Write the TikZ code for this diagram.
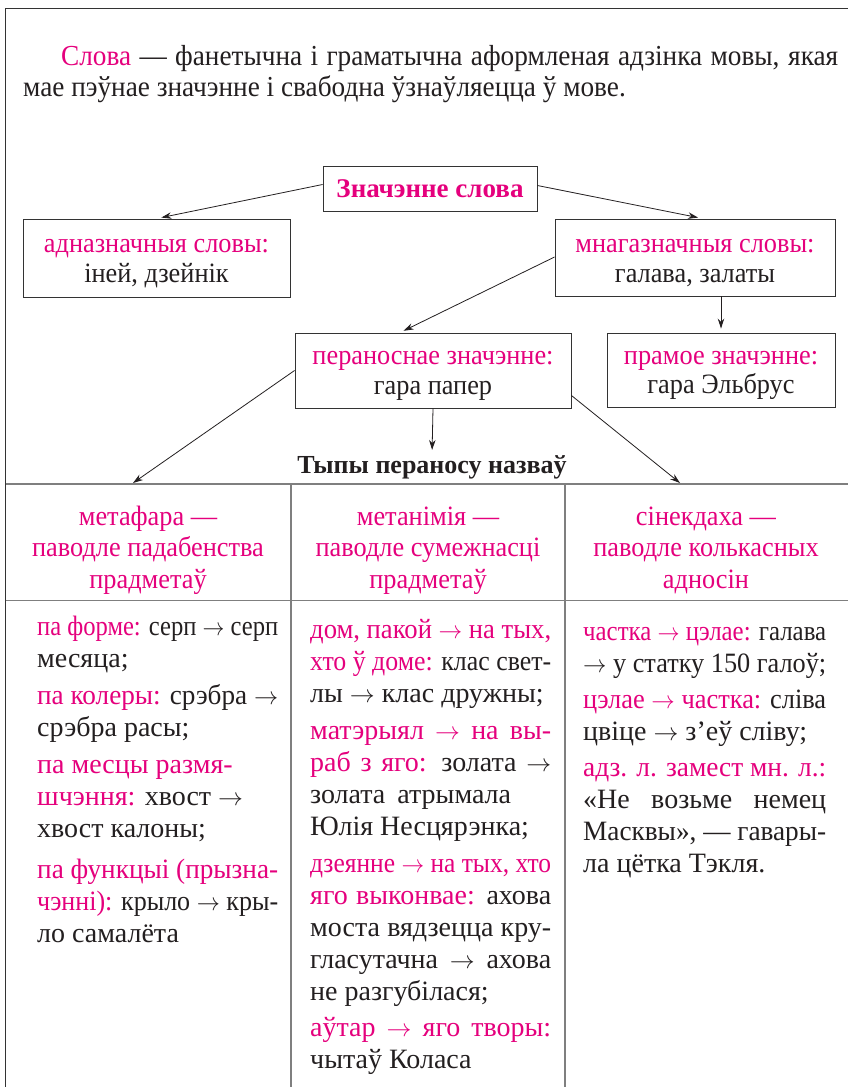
\documentclass[tikz,border=0pt]{standalone}
\usepackage{fontspec}
\setmainfont{Liberation Serif}
\newfontfamily\condf[FakeStretch=0.94]{Liberation Serif}
\usepackage{graphicx}
\usetikzlibrary{arrows.meta}
\definecolor{mg}{HTML}{E5007D}
\definecolor{tx}{HTML}{231F20}
\definecolor{frm}{HTML}{333333}
\definecolor{tabl}{HTML}{7F7F7F}
\newcommand\pk[1]{\textcolor{mg}{#1}}
\newcommand\myto{\ensuremath{\rightarrow}}
\newsavebox\jlbox
\newdimen\jldim
\newcommand\jl[2]{\sbox\jlbox{#2}\jldim=\wd\jlbox\relax
  \ifdim\jldim>#1\relax\pgfmathsetmacro\jlsc{#1/\jldim}\scalebox{\jlsc}[1]{\usebox\jlbox}\else\makebox[#1][s]{#2}\fi}
\begin{document}
\begin{tikzpicture}[x=1pt,y=-1pt,
  box/.style={draw=frm, line width=0.9pt, align=center, inner sep=0pt, text=tx, font=\condf\fontsize{28}{29.5}\selectfont},
  arr/.style={draw=tx, line width=0.8pt, -{Stealth[length=10pt,width=6.5pt]}},
  txt/.style={inner sep=0pt, text=tx, font=\fontsize{28}{32}\selectfont},
  para/.style={txt, anchor=base west, font=\condf\fontsize{29}{30}\selectfont},
  head/.style={txt, align=center, anchor=north, text=mg, font=\condf\fontsize{28}{31.5}\selectfont},
  cell/.style={txt, align=left, anchor=north west}]
\useasboundingbox (0,0) rectangle (848,1087);
\fill[white] (0,0) rectangle (848,1087);
% frame and table
\draw[frm, line width=1.2pt] (5.5,1087) -- (5.5,8.5) -- (848,8.5);
\draw[tabl, line width=1.5pt] (5.5,484) -- (848,484) (5.5,600.5) -- (848,600.5)
  (291,484) -- (291,1087) (565,484) -- (565,1087);
% paragraph
\node[para] (p1) at (61,65)
  {\jl{777pt}{\pk{Слова} — фанетычна і граматычна аформленая адзінка мовы, якая}};
\node[para] (p2) at (23,96)
  {мае пэўнае значэнне і свабодна ўзнаўляецца ў мове.};
% boxes
\node[box, minimum width=214pt, minimum height=45pt, text=mg, font=\bfseries\fontsize{27}{29}\selectfont] (b1) at (430,188.5) {Значэнне слова};
\node[box, minimum width=267pt, minimum height=78pt] (b2) at (156.5,258) {\rule{0pt}{24pt}\pk{адназначныя словы:}\\іней, дзейнік};
\node[box, minimum width=280pt, minimum height=77pt] (b3) at (695,257.5) {\rule{0pt}{24pt}\pk{мнагазначныя словы:}\\галава, залаты};
\node[box, minimum width=276pt, minimum height=75pt] (b4) at (433,370.5) {\rule{0pt}{24pt}\pk{пераноснае значэнне:}\\гара папер};
\node[box, minimum width=228pt, minimum height=74pt] (b5) at (721,370) {\rule{0pt}{24pt}\pk{прамое значэнне:}\\гара Эльбрус};
\node[txt, font=\bfseries\fontsize{26}{30}\selectfont, anchor=base] (tp) at (432,473) {Тыпы пераносу назваў};
% table headers
\node[head] (h1) at (148,505) {\rule{0pt}{20pt}метафара —\\паводле падабенства\\прадметаў};
\node[head] (h2) at (428,505) {\rule{0pt}{20pt}метанімія —\\паводле сумежнасці\\прадметаў};
\node[head] (h3) at (706,505) {\rule{0pt}{20pt}сінекдаха —\\паводле колькасных\\адносін};
\coordinate (j1) at (133,483);
\coordinate (j3) at (680,483);
% connectors
\draw[arr, shorten >=5pt] ([yshift=4pt]b1.west) -- (b2.north);
\draw[arr, shorten >=5pt] ([yshift=3pt]b1.east) -- ([xshift=8pt]b3.north);
\draw[arr, shorten >=4pt] ([yshift=0.5pt]b3.west) -- ([xshift=-33pt]b4.north);
\draw[arr, shorten >=4pt] (b5.north |- b3.south) -- (b5.north);
\draw[arr] (b4.west) -- (j1);
\draw[arr, shorten >=5pt] (b4.south) -- (tp.north);
\draw[arr] ([yshift=-25pt]b4.east) -- (j3);
% body cells
\node[cell] (c1) at (37,613) {\rule{0pt}{22pt}\jl{241pt}{\pk{па форме:} серп \myto{} серп}\\
месяца;\\[5pt]
\jl{241pt}{\pk{па колеры:} срэбра \myto}\\
срэбра расы;\\[5pt]
\pk{па месцы размя-}\\
\pk{шчэння:} хвост \myto\\
хвост калоны;\\[9pt]
\jl{241pt}{\pk{па функцыі (прызна-}}\\
\jl{241pt}{\pk{чэнні):} крыло \myto{} кры-}\\
ло самалёта};
\node[cell] (c2) at (310,616) {\rule{0pt}{22pt}\jl{241pt}{\pk{дом, пакой \myto{} на тых,}}\\
\jl{241pt}{\pk{хто ў доме:} клас свет-}\\
лы \myto{} клас дружны;\\[5pt]
\jl{241pt}{\pk{матэрыял \myto{} на вы-}}\\
\jl{241pt}{\pk{раб з яго:} золата \myto}\\
золата\hspace{12pt}атрымала\\
Юлія Несцярэнка;\\[5pt]
\jl{241pt}{\pk{дзеянне \myto{} на тых, хто}}\\
\jl{241pt}{\pk{яго выконвае:} ахова}\\
\jl{241pt}{моста вядзецца кру-}\\
\jl{241pt}{гласутачна \myto{} ахова}\\
не разгубілася;\\[4pt]
\jl{241pt}{\pk{аўтар \myto{} яго творы:}}\\
чытаў Коласа};
\node[cell] (c3) at (583,618) {\rule{0pt}{22pt}\jl{243pt}{\pk{частка \myto{} цэлае:} галава}\\
\jl{243pt}{\myto{} у статку 150 галоў;}\\[4pt]
\jl{243pt}{\pk{цэлае \myto{} частка:} сліва}\\
цвіце \myto{} з’еў сліву;\\[4pt]
\jl{243pt}{\pk{адз. л. замест мн. л.:}}\\
\jl{243pt}{«Не возьме немец}\\
\jl{243pt}{Масквы», — гавары-}\\
ла цётка Тэкля.};
\end{tikzpicture}
\end{document}
